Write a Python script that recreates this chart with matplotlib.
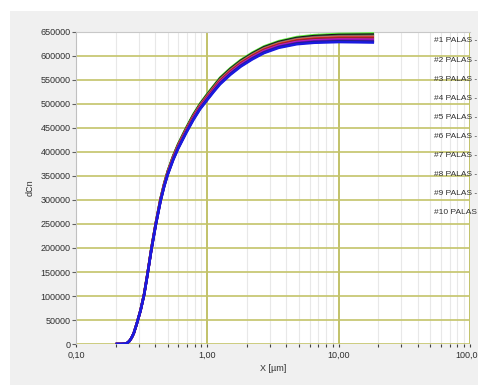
import matplotlib
matplotlib.use("Agg")
import matplotlib.pyplot as plt
from matplotlib.patches import Rectangle
from matplotlib.ticker import FixedLocator, LogLocator, NullFormatter, FuncFormatter

# particle size [um]
x_um = [0.205, 0.22, 0.235, 0.245, 0.255, 0.265, 0.275, 0.29, 0.31, 0.33,
        0.35, 0.375, 0.405, 0.44, 0.47, 0.50, 0.55, 0.60, 0.69, 0.78,
        0.88, 1.0, 1.12, 1.25, 1.5, 1.8, 2.2, 2.7, 3.5, 4.8,
        6.5, 10.0, 14.0, 18.2]

palas_1 = [0, 0, 500, 2000, 6000, 13000, 22000, 42500, 70800, 104200,
           146500, 200000, 252500, 303000, 335500, 361000, 392500, 417000, 450500, 478000,
           501000, 521500, 538500, 555000, 575000, 592000, 607000, 620000, 631000, 639500,
           643500, 646000, 646500, 647000]
palas_2 = [0, 0, 500, 2000, 6000, 13000, 22000, 42400, 70600, 103900,
           146100, 199500, 251900, 302300, 334600, 360000, 391400, 415800, 449100, 476500,
           499500, 519900, 536900, 553300, 573300, 590300, 605300, 618300, 629300, 637600,
           641500, 643900, 644300, 644600]
palas_3 = [0, 0, 500, 2000, 6000, 13000, 22000, 42300, 70400, 103600,
           145800, 199000, 251300, 301500, 333800, 359000, 390300, 414500, 447800, 475000,
           498000, 518300, 535300, 551500, 571500, 588500, 603500, 616500, 627500, 635800,
           639500, 641800, 642000, 642300]
palas_4 = [0, 0, 500, 2000, 6000, 13000, 22000, 42200, 70200, 103400,
           145500, 198600, 250800, 300900, 333100, 358200, 389400, 413500, 446700, 473800,
           496800, 517000, 534000, 550100, 570100, 587100, 602100, 615100, 626100, 634300,
           637900, 640100, 640200, 640400]
palas_5 = [0, 0, 500, 2000, 6000, 13000, 22000, 42100, 70100, 103100,
           145200, 198200, 250300, 300300, 332400, 357400, 388500, 412500, 445600, 472600,
           495600, 515700, 532700, 548700, 568700, 585700, 600700, 613700, 624700, 632800,
           636300, 638400, 638400, 638500]
palas_6 = [0, 0, 500, 2000, 6000, 13000, 22000, 41900, 69900, 102900,
           144800, 197800, 249800, 299700, 331600, 356600, 387500, 411500, 444400, 471400,
           494400, 514300, 531300, 547300, 567300, 584300, 599300, 612300, 623300, 631200,
           634700, 636600, 636600, 636500]
palas_7 = [0, 0, 500, 2000, 6000, 13000, 22000, 41800, 69700, 102600,
           144500, 197300, 249100, 299000, 330800, 355400, 386300, 410100, 442900, 469900,
           492900, 512700, 529700, 545600, 565600, 582600, 597600, 610600, 621600, 629400,
           632700, 634500, 634400, 634200]
palas_8 = [0, 0, 500, 2000, 6000, 13000, 22000, 41700, 69500, 102300,
           144100, 196800, 248500, 297900, 329600, 354300, 385300, 409000, 441700, 468400,
           491400, 511100, 528100, 543800, 563800, 580800, 595800, 608800, 619800, 627500,
           630700, 632400, 632100, 631800]
palas_9 = [0, 0, 500, 2000, 6000, 13000, 22000, 41600, 69400, 102000,
           143800, 196400, 248000, 297600, 329200, 353800, 384400, 408000, 440600, 467200,
           490200, 509800, 526800, 542400, 562400, 579400, 594400, 607400, 618400, 626000,
           629100, 630700, 630300, 629900]
palas_10 = [0, 0, 500, 2000, 6000, 13000, 22000, 41500, 69200, 101800,
            143500, 196000, 247500, 297000, 328500, 353000, 383500, 407000, 439500, 466000,
            489000, 508500, 525500, 541000, 561000, 578000, 593000, 606000, 617000, 624500,
            627500, 629000, 628500, 628000]

series = [palas_1, palas_2, palas_3, palas_4, palas_5,
          palas_6, palas_7, palas_8, palas_9, palas_10]
labels = ["#1 PALAS -", "#2 PALAS -", "#3 PALAS -", "#4 PALAS -", "#5 PALAS -",
          "#6 PALAS -", "#7 PALAS -", "#8 PALAS -", "#9 PALAS -", "#10 PALAS"]
colours = ["#5cf03c", "#101010", "#4a5a4a", "#c87a70", "#e02020",
           "#8a2a2a", "#c020c0", "#7a10c0", "#202080", "#1a1ae0"]

y_ticks = list(range(0, 650001, 50000))
x_ticks = [0.1, 1, 10, 100]

plt.rcParams["font.family"] = ["Liberation Sans", "DejaVu Sans"]

fig = plt.figure(figsize=(4.78, 3.85), dpi=100)
fig.patch.set_facecolor("white")
fig.patches.append(Rectangle((10 / 478, 0), 1, 1 - 11 / 385, transform=fig.transFigure,
                             facecolor="#f0f0f0", edgecolor="none", zorder=-10))

ax = fig.add_axes([76 / 478, 1 - 344 / 385, (470 - 76) / 478, (344 - 32) / 385])
ax.set_facecolor("white")

for vals, col in zip(series, colours):
    ax.plot(x_um, vals, color=col, lw=1.8, solid_joinstyle="round", zorder=3)

ax.set_xscale("log")
ax.set_xlim(0.1, 100)
ax.set_ylim(0, 650000)

# last x label is placed by hand so it stays inside the canvas
ax.xaxis.set_major_locator(FixedLocator(x_ticks))
ax.xaxis.set_major_formatter(FuncFormatter(
    lambda v, p: "" if v >= 100 else ("%.2f" % v).replace(".", ",")))
ax.xaxis.set_minor_locator(LogLocator(base=10, subs=range(2, 10)))
ax.xaxis.set_minor_formatter(NullFormatter())
ax.yaxis.set_major_locator(FixedLocator(y_ticks))
ax.yaxis.set_major_formatter(FuncFormatter(lambda v, p: "%d" % v))

ax.grid(which="major", axis="y", color="#c4c46a", lw=1.2, zorder=1)
ax.grid(which="major", axis="x", color="#b8b850", lw=1.2, zorder=1)
ax.grid(which="minor", axis="x", color="#e8e8e8", lw=0.8, zorder=0)

for s in ["right", "bottom"]:
    ax.spines[s].set_visible(False)
ax.spines["left"].set_color("#c0c0c0")
ax.spines["top"].set_color("#c8c8c8")

ax.tick_params(axis="y", which="major", length=3, width=0.8, color="#606060",
               labelsize=6.5, labelcolor="#303030", pad=1)
ax.tick_params(axis="x", which="both", length=2, width=0.8, color="#404040",
               labelsize=6.5, labelcolor="#303030", pad=3)

fig.text(455 / 478, 1 - 355 / 385, "100,0", fontsize=6.5, color="#303030",
         ha="left", va="center")

ax.set_xlabel("X [µm]", fontsize=6.5, color="#303030", labelpad=3)
ax.set_ylabel("dCn", fontsize=6.5, color="#303030", labelpad=4)

for i, lab in enumerate(labels):
    fig.text(434 / 478, 1 - (41 + i * 19.1) / 385, lab, fontsize=6, color="#303030",
             va="center", ha="left")

fig.savefig("out.png", dpi=100, facecolor=fig.get_facecolor())
